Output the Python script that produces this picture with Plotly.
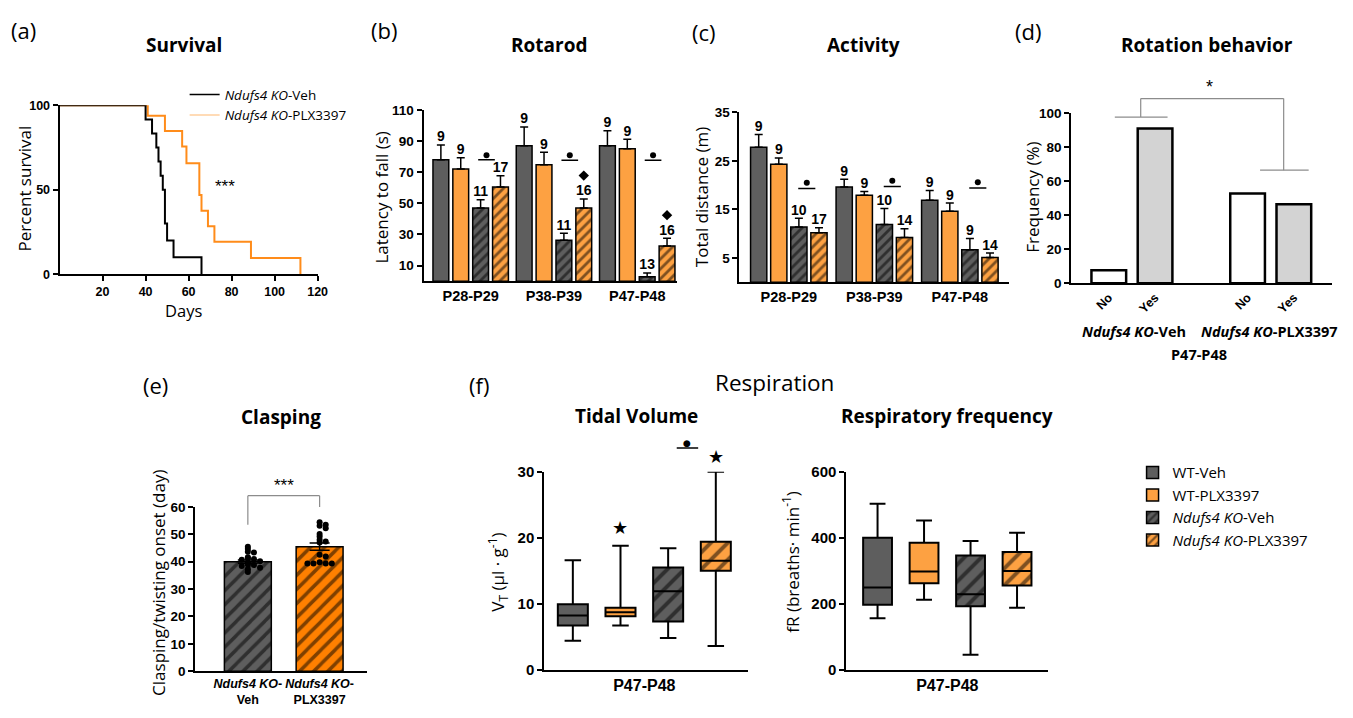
import plotly.graph_objects as go

W, H = 1353, 718
def fx(p): return p / W
def fy(p): return 1 - p / H

# ---------------- DATA ----------------
surv_veh_days = [0, 40, 43, 45, 46, 47, 48, 49, 50, 53, 66]
surv_veh_pct = [100, 91.7, 83.3, 75, 66.7, 58.3, 50, 30, 20, 10, 0]
surv_plx_days = [0, 41, 49, 57, 59, 65, 66, 69, 72, 89, 112]
surv_plx_pct = [100, 93.8, 84.8, 75.6, 65.8, 47, 37.6, 28.5, 19.3, 9.6, 0]
surv_xticks = [20, 40, 60, 80, 100, 120]
surv_yticks = [0, 50, 100]

periods = ["P28-P29", "P38-P39", "P47-P48"]
rot_wt_veh = [78, 87, 87]
rot_wt_veh_sem = [9.5, 12, 9.6]
rot_wt_plx = [72, 74.7, 85]
rot_wt_plx_sem = [7.2, 8.1, 6.2]
rot_ko_veh = [47, 26.3, 2.8]
rot_ko_veh_sem = [5.3, 4.4, 2.5]
rot_ko_plx = [60.4, 47, 22.6]
rot_ko_plx_sem = [7.3, 5.8, 5.0]
rot_n_wt_veh = [9, 9, 9]
rot_n_wt_plx = [9, 9, 9]
rot_n_ko_veh = [11, 11, 13]
rot_n_ko_plx = [17, 16, 16]
rot_sig_line = [78, 77.7, 77.7]
rot_sig_dot = [80.9, 80.8, 80.8]
rot_diamond_period = [1, 2]
rot_diamond_y = [67.8, 42.4]
rot_yticks = [10, 30, 50, 70, 90, 110]

act_wt_veh = [27.8, 19.6, 16.9]
act_wt_veh_sem = [2.6, 1.6, 2.0]
act_wt_plx = [24.3, 17.9, 14.6]
act_wt_plx_sem = [1.3, 0.8, 1.7]
act_ko_veh = [11.4, 11.9, 6.7]
act_ko_veh_sem = [1.8, 3.3, 2.3]
act_ko_plx = [10.2, 9.2, 5.1]
act_ko_plx_sem = [1.0, 1.8, 0.9]
act_n_wt_veh = [9, 9, 9]
act_n_wt_plx = [9, 9, 9]
act_n_ko_veh = [10, 10, 9]
act_n_ko_plx = [17, 14, 14]
act_sig_line = [19.3, 19.7, 19.4]
act_sig_dot = [20.5, 20.9, 20.6]
act_yticks = [5, 15, 25, 35]

rb_labels = ["No", "Yes", "No", "Yes"]
rb_freq = [7.7, 91, 52.8, 46.5]
rb_yticks = [0, 20, 40, 60, 80, 100]

clasp_mean = [40, 45.5]
clasp_sem = [0.6, 1.3]
clasp_veh_pts = [45.5, 44.6, 43.6, 43.4, 41.6, 41.3, 41.0, 40.7, 40.2, 39.8, 39.0, 38.8, 38.4, 37.8, 37.2, 36.2]
clasp_plx_pts = [54.4, 53.5, 53.1, 52.2, 50.1, 49.2, 48.0, 47.4, 47.0, 42.5, 41.9, 39.8, 39.3, 39.3, 39.3, 39.3]
clasp_yticks = [0, 10, 20, 30, 40, 50, 60]

tv_lo = [4.4, 6.7, 4.8, 3.6]
tv_q1 = [6.7, 8.1, 7.3, 15.0]
tv_med = [8.2, 8.7, 11.9, 16.5]
tv_q3 = [9.9, 9.4, 15.5, 19.4]
tv_hi = [16.6, 18.8, 18.4, 30.0]
tv_star_box = [1, 3]
tv_star_y = [21.5, 32.3]
tv_sig_line = 33.6
tv_sig_dot = 34.4
tv_yticks = [0, 10, 20, 30]

fr_lo = [156, 212, 45, 188]
fr_q1 = [197, 262, 192, 255]
fr_med = [249, 298, 229, 299]
fr_q3 = [400, 385, 346, 357]
fr_hi = [503, 452, 390, 415]
fr_yticks = [0, 200, 400, 600]

# ---------------- STYLE ----------------
GRAY = "#5e5e5e"
ORANGE = "#fda142"
ORANGE_E = "#ff8000"
ORANGE_LINE = "#ff8c1a"
LIGHT = "#d3d3d3"
series_names = ["WT-Veh", "WT-PLX3397", "<i>Ndufs4 KO</i>-Veh", "<i>Ndufs4 KO</i>-PLX3397"]
series_colors = [GRAY, ORANGE, GRAY, ORANGE]
series_hatch = ["", "", "/", "/"]
def afont(size): return dict(family="Arial", size=size, color="black", weight="bold")

fig = go.Figure()

# (a) Survival
fig.add_trace(go.Scatter(x=surv_plx_days, y=surv_plx_pct, mode="lines",
                         line=dict(color=ORANGE_LINE, width=2, shape="hv"),
                         xaxis="x", yaxis="y", showlegend=False))
fig.add_trace(go.Scatter(x=surv_veh_days, y=surv_veh_pct, mode="lines",
                         line=dict(color="black", width=2, shape="hv"),
                         xaxis="x", yaxis="y", showlegend=False))
fig.add_trace(go.Scatter(x=[None], y=[None], mode="lines", line=dict(color="black", width=1.5),
                         name="<i>Ndufs4 KO</i>-Veh", legend="legend2", legendgroup="a1",
                         xaxis="x", yaxis="y"))
fig.add_trace(go.Scatter(x=[None], y=[None], mode="lines", line=dict(color="#ffcf9e", width=1.5),
                         name="<i>Ndufs4 KO</i>-PLX3397", legend="legend2", legendgroup="a2",
                         xaxis="x", yaxis="y"))

# (b) & (c) grouped bars
def grouped(xa, ya, means, sems, ns, pitch, width, pat_size, legend):
    for j in range(4):
        xs = [g + (j - 1.5) * pitch for g in range(len(means[j]))]
        fig.add_trace(go.Bar(
            x=xs, y=means[j], width=width, xaxis=xa, yaxis=ya,
            marker=dict(color=series_colors[j], line=dict(color="black", width=1.5),
                        pattern=dict(shape=series_hatch[j], fgcolor="black",
                                     bgcolor=series_colors[j], size=pat_size, solidity=0.4)),
            error_y=dict(type="data", symmetric=False, array=sems[j], arrayminus=[0] * len(sems[j]),
                         color="black", thickness=1.5, width=4),
            name=series_names[j], legendgroup="s%d" % j, showlegend=legend))
        fig.add_trace(go.Scatter(
            x=xs, y=[m + s for m, s in zip(means[j], sems[j])], mode="text",
            text=[str(n) for n in ns[j]], textposition="top center",
            textfont=afont(14), cliponaxis=False, xaxis=xa, yaxis=ya,
            showlegend=False, hoverinfo="skip"))

PITCH_B = 0.2386
grouped("x2", "y2", [rot_wt_veh, rot_wt_plx, rot_ko_veh, rot_ko_plx],
        [rot_wt_veh_sem, rot_wt_plx_sem, rot_ko_veh_sem, rot_ko_plx_sem],
        [rot_n_wt_veh, rot_n_wt_plx, rot_n_ko_veh, rot_n_ko_plx], PITCH_B, 0.19, 7, True)
PITCH_C = 0.235
grouped("x3", "y3", [act_wt_veh, act_wt_plx, act_ko_veh, act_ko_plx],
        [act_wt_veh_sem, act_wt_plx_sem, act_ko_veh_sem, act_ko_plx_sem],
        [act_n_wt_veh, act_n_wt_plx, act_n_ko_veh, act_n_ko_plx], PITCH_C, 0.19, 7, False)

shapes = []
SIG_OFF_B, SIG_OFF_C, SIG_HW = 0.19, 0.21, 0.1
for g, ly in enumerate(rot_sig_line):
    shapes.append(dict(type="line", xref="x2", yref="y2", x0=g + SIG_OFF_B - SIG_HW,
                       x1=g + SIG_OFF_B + SIG_HW, y0=ly, y1=ly, line=dict(color="black", width=1.5)))
fig.add_trace(go.Scatter(x=[g + SIG_OFF_B for g in range(3)], y=rot_sig_dot, mode="markers",
                         marker=dict(color="black", size=6), xaxis="x2", yaxis="y2",
                         showlegend=False, cliponaxis=False))
fig.add_trace(go.Scatter(x=[g + 1.5 * PITCH_B for g in rot_diamond_period], y=rot_diamond_y,
                         mode="markers", marker=dict(color="black", size=8, symbol="diamond"),
                         xaxis="x2", yaxis="y2", showlegend=False, cliponaxis=False))
for g, ly in enumerate(act_sig_line):
    shapes.append(dict(type="line", xref="x3", yref="y3", x0=g + SIG_OFF_C - SIG_HW,
                       x1=g + SIG_OFF_C + SIG_HW, y0=ly, y1=ly, line=dict(color="black", width=1.5)))
fig.add_trace(go.Scatter(x=[g + SIG_OFF_C for g in range(3)], y=act_sig_dot, mode="markers",
                         marker=dict(color="black", size=6), xaxis="x3", yaxis="y3",
                         showlegend=False, cliponaxis=False))

# (d) Rotation behavior
rb_x = [0, 1, 3, 4]
fig.add_trace(go.Bar(x=rb_x, y=rb_freq, width=0.75, xaxis="x4", yaxis="y4", showlegend=False,
                     marker=dict(color=["white", LIGHT, "white", LIGHT],
                                 line=dict(color="black", width=2.5))))
BR = "#8c8c8c"
RB_TOP = rb_yticks[-1]
def dline(xr, yr, top, x0, x1, y0, y1, color=BR, width=1.2):
    shapes.append(dict(type="line", xref=xr, yref=yr + " domain", x0=x0, x1=x1,
                       y0=y0 / top, y1=y1 / top, line=dict(color=color, width=width)))
dline("x4", "y4", RB_TOP, 0.13, 1.27, 97.7, 97.7)
dline("x4", "y4", RB_TOP, 0.69, 0.69, 97.7, 108.6)
dline("x4", "y4", RB_TOP, 0.69, 3.78, 108.6, 108.6)
dline("x4", "y4", RB_TOP, 3.78, 3.78, 108.6, 66.5)
dline("x4", "y4", RB_TOP, 3.27, 4.32, 66.5, 66.5)

# (e) Clasping
clasp_colors = [GRAY, ORANGE_E]
for gi in range(2):
    fig.add_trace(go.Bar(x=[gi], y=[clasp_mean[gi]], width=0.654, xaxis="x5", yaxis="y5", showlegend=False,
                         marker=dict(color=clasp_colors[gi], line=dict(color="black", width=1.5),
                                     pattern=dict(shape="/", fgcolor="black", bgcolor=clasp_colors[gi],
                                                  size=10, solidity=0.35)),
                         error_y=dict(type="data", array=[clasp_sem[gi]], color="black",
                                      thickness=1.5, width=10)))

def swarm(vals, step=0.085):
    offs, rows = [], {}
    for v in vals:
        k = round(v / 1.2)
        i = rows.get(k, 0)
        rows[k] = i + 1
        offs.append(((i + 1) // 2) * step * (1 if i % 2 else -1))
    return offs

for gi, pts in enumerate([clasp_veh_pts, clasp_plx_pts]):
    fig.add_trace(go.Scatter(x=[gi + o for o in swarm(pts)], y=pts, mode="markers",
                             marker=dict(color="black", size=6), xaxis="x5", yaxis="y5",
                             showlegend=False, cliponaxis=False))
CL_TOP = clasp_yticks[-1]
dline("x5", "y5", CL_TOP, 0, 0, 53.5, 64.1)
dline("x5", "y5", CL_TOP, 0, 1, 64.1, 64.1)
dline("x5", "y5", CL_TOP, 1, 1, 64.1, 60)

# (f) Respiration boxes
box_x = [0, 1, 2, 3]
def boxes(xa, ya, lo, q1, med, q3, hi, width):
    for k in range(4):
        fig.add_trace(go.Bar(x=[box_x[k]], y=[q3[k] - q1[k]], base=[q1[k]], width=width,
                             xaxis=xa, yaxis=ya, showlegend=False,
                             marker=dict(color=series_colors[k], line=dict(width=0),
                                         pattern=dict(shape=series_hatch[k], fgcolor="black",
                                                      bgcolor=series_colors[k], size=12, solidity=0.33))))
    fig.add_trace(go.Box(x=box_x, q1=q1, median=med, q3=q3, lowerfence=lo, upperfence=hi,
                         orientation="v", width=width, whiskerwidth=0.55, boxpoints=False,
                         fillcolor="rgba(0,0,0,0)", line=dict(color="black", width=2),
                         xaxis=xa, yaxis=ya, showlegend=False))

boxes("x6", "y6", tv_lo, tv_q1, tv_med, tv_q3, tv_hi, 0.63)
boxes("x7", "y7", fr_lo, fr_q1, fr_med, fr_q3, fr_hi, 0.62)
TV_TOP = tv_yticks[-1]
dline("x6", "y6", TV_TOP, 2.18, 2.63, tv_sig_line, tv_sig_line, color="black", width=1.5)

# ---------------- AXES ----------------
def yax(dom, rng, ticks, anchor, size=13.5):
    return dict(domain=[fy(dom[1]), fy(dom[0])], range=rng, tickvals=ticks, anchor=anchor,
                showline=True, linecolor="black", linewidth=2, ticks="outside", ticklen=5,
                tickwidth=1.5, tickcolor="black", showgrid=False, zeroline=False,
                tickfont=afont(size), fixedrange=True)

def xax(dom, rng, anchor, tickvals, ticktext=None, ticks="", size=14.5, angle=0):
    d = dict(domain=[fx(dom[0]), fx(dom[1])], range=rng, anchor=anchor, tickvals=tickvals,
             showline=True, linecolor="black", linewidth=2, ticks=ticks, ticklen=5, tickwidth=1.5,
             tickcolor="black", showgrid=False, zeroline=False, tickfont=afont(size), fixedrange=True,
             tickangle=angle)
    if ticktext is not None:
        d["ticktext"] = ticktext
    return d

clasp_ticktext = ["<i>Ndufs4 KO</i>-<br>Veh", "<i>Ndufs4 KO</i>-<br>PLX3397"]

fig.update_layout(
    xaxis=xax((60, 320), [0, 120], "y", surv_xticks, ticks="outside", size=12.5),
    yaxis=yax((98.7, 271.7), [0, 100], surv_yticks, "x", size=12.5),
    xaxis2=xax((426.7, 682), [-0.566, 2.477], "y2", [0, 1, 2], periods),
    yaxis2=yax((103.3, 278.8), [0, 110], rot_yticks, "x2"),
    xaxis3=xax((745, 1016.7), [-0.577, 2.577], "y3", [0, 1, 2], periods),
    yaxis3=yax((105.7, 279.9), [0, 35], act_yticks, "x3"),
    xaxis4=xax((1079.3, 1341.7), [-0.81, 4.82], "y4", rb_x, rb_labels, size=12.5, angle=-45),
    yaxis4=yax((106.7, 281), [0, 100], rb_yticks, "x4"),
    xaxis5=xax((196.7, 370), [-0.733, 1.664], "y5", [0, 1], clasp_ticktext, size=12.5),
    yaxis5=yax((510, 678.3), [0, 60], clasp_yticks, "x5"),
    xaxis6=xax((548.3, 753.3), [-0.6, 3.67], "y6", [1.5], ["P47-P48"], size=16),
    yaxis6=yax((474, 676.7), [0, 30], tv_yticks, "x6", size=15),
    xaxis7=xax((852.7, 1056), [-0.67, 3.67], "y7", [1.5], ["P47-P48"], size=16),
    yaxis7=yax((474, 676.7), [0, 600], fr_yticks, "x7", size=15),
)

# ---------------- TEXT ----------------
def txt(x, y, s, size, angle=0, family="Open Sans"):
    return dict(x=fx(x), y=fy(y), xref="paper", yref="paper", text=s, showarrow=False,
                font=dict(family=family, size=size, color="black"), textangle=angle,
                xanchor="center", yanchor="middle")

def mark(xr, yr, top, x, y, s, size, family="DejaVu Sans"):
    return dict(x=x, y=y / top, xref=xr, yref=yr + " domain", text=s, showarrow=False,
                xanchor="center", yanchor="middle",
                font=dict(family=family, size=size, color="black"))

ann = [
    txt(24, 22, "(a)", 22), txt(387, 22, "(b)", 22), txt(709, 24, "(c)", 22), txt(1036, 23, "(d)", 22),
    txt(157, 385, "(e)", 22), txt(483, 385, "(f)", 22),
    txt(185, 37, "<b>Survival</b>", 19), txt(553, 37, "<b>Rotarod</b>", 19),
    txt(870, 37, "<b>Activity</b>", 19), txt(1216, 37, "<b>Rotation behavior</b>", 19),
    txt(283, 418, "<b>Clasping</b>", 19), txt(641, 417, "<b>Tidal Volume</b>", 19),
    txt(954, 417, "<b>Respiratory frequency</b>", 19), txt(780, 383, "Respiration", 22.5),
    txt(25, 184, "Percent survival", 17, -90), txt(185, 309, "Days", 16.5),
    txt(384, 193, "Latency to fall (s)", 17, -90), txt(707, 193, "Total distance (m)", 17, -90),
    txt(1040, 193, "Frequency (%)", 17, -90),
    txt(159, 588, "Clasping/twisting onset (day)", 17, -90),
    txt(501, 577, "V<sub>T</sub> (µl · g<sup>-1</sup>)", 17, -90),
    txt(797, 566, "fR (breaths· min<sup>-1</sup>)", 17, -90),
    txt(1142, 330, "<b><i>Ndufs4 KO</i>-Veh</b>", 14.5), txt(1279, 330, "<b><i>Ndufs4 KO</i>-PLX3397</b>", 14.5),
    txt(1208, 354, "<b>P47-P48</b>", 14.5),
    dict(x=76.9, y=51.9, xref="x", yref="y", text="***", showarrow=False,
         xanchor="center", yanchor="middle", font=dict(family="Arial", size=17, color="black")),
    mark("x4", "y4", RB_TOP, 2.17, 115.3, "*", 18, "Arial"),
    mark("x5", "y5", CL_TOP, 0.5, 67.9, "***", 17, "Arial"),
    mark("x6", "y6", TV_TOP, 2.4, tv_sig_dot, "●", 9),
]
for bx, sy in zip(tv_star_box, tv_star_y):
    ann.append(mark("x6", "y6", TV_TOP, bx, sy, "★", 18))

fig.update_layout(
    width=W, height=H, margin=dict(l=0, r=0, t=0, b=0), autosize=False,
    paper_bgcolor="white", plot_bgcolor="white",
    font=dict(family="Open Sans", color="black"),
    barmode="overlay", boxmode="overlay",
    shapes=shapes, annotations=ann,
    legend=dict(x=fx(1141), y=fy(458), xanchor="left", yanchor="top", bgcolor="rgba(0,0,0,0)",
                font=dict(family="Open Sans", size=15, color="black"), tracegroupgap=9,
                traceorder="normal"),
    legend2=dict(x=fx(186), y=fy(72), xanchor="left", yanchor="top", bgcolor="rgba(0,0,0,0)",
                 font=dict(family="Open Sans", size=13.5, color="black"), tracegroupgap=7,
                 traceorder="normal"),
)

fig.write_html("out.html", config={"responsive": False, "displayModeBar": False},
               post_script="document.body.style.margin='0px';document.body.style.overflow='hidden';")
